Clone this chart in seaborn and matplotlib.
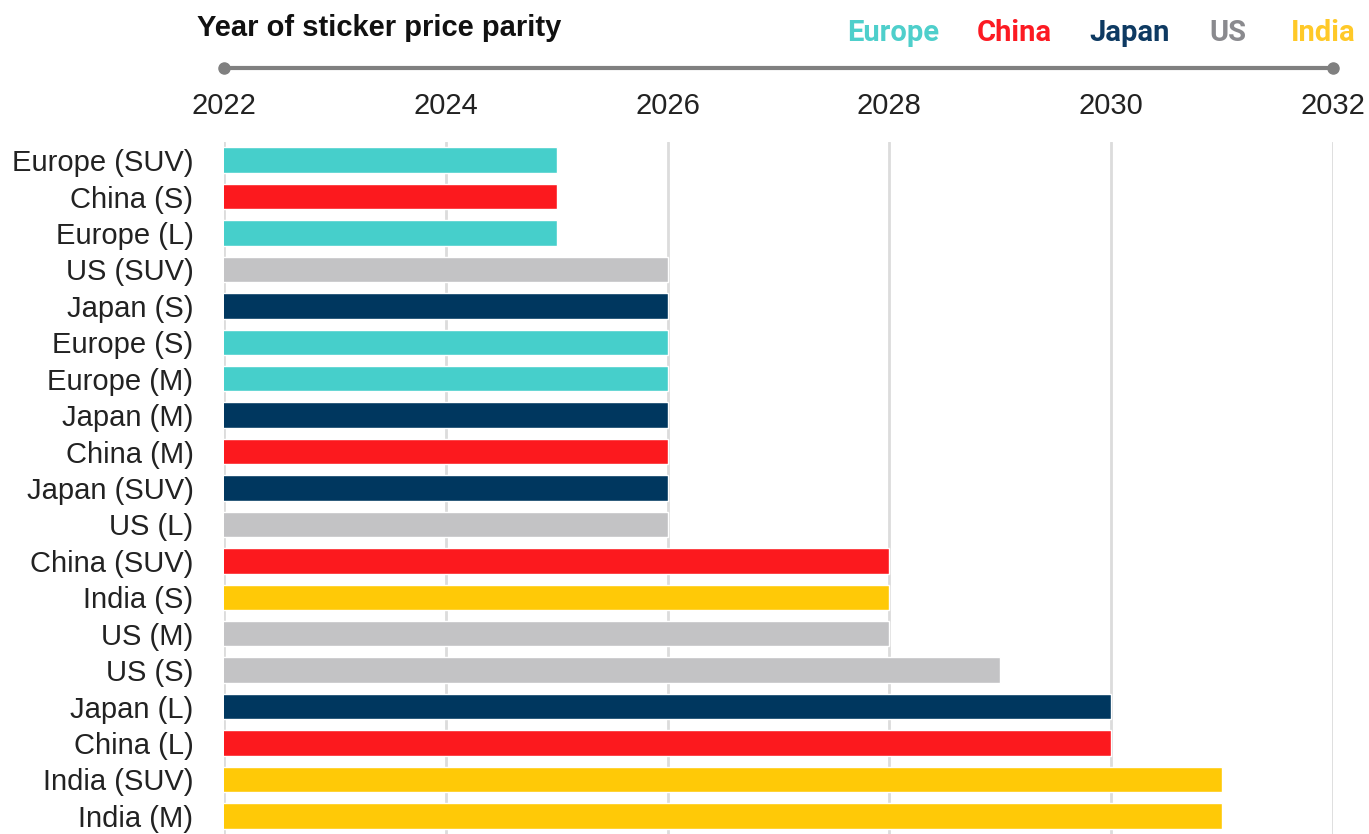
import matplotlib
matplotlib.use("Agg")
import matplotlib.pyplot as plt
import matplotlib.transforms as mtransforms
import seaborn as sns
import pandas as pd

# Data
labels = ["Europe (SUV)", "China (S)", "Europe (L)", "US (SUV)", "Japan (S)",
          "Europe (S)", "Europe (M)", "Japan (M)", "China (M)", "Japan (SUV)",
          "US (L)", "China (SUV)", "India (S)", "US (M)", "US (S)",
          "Japan (L)", "China (L)", "India (SUV)", "India (M)"]
years = [2025, 2025, 2025, 2026, 2026, 2026, 2026, 2026, 2026, 2026,
         2026, 2028, 2028, 2028, 2029, 2030, 2030, 2031, 2031]
regions = [s.split(" (")[0] for s in labels]

region_order = ["Europe", "China", "Japan", "US", "India"]
bar_colors = {"Europe": "#46CFCB", "China": "#FC191E", "Japan": "#00375F",
              "US": "#C3C3C5", "India": "#FFC907"}
text_colors = {"Europe": "#4ECFCB", "China": "#FC1A22", "Japan": "#0E3A62",
               "US": "#8A8A8E", "India": "#FFC928"}
tick_years = list(range(2022, 2033, 2))

df = pd.DataFrame({"label": labels, "year": years, "region": regions})

sns.set_style("white")
plt.rcParams["font.family"] = ["Liberation Sans", "DejaVu Sans"]

fig = plt.figure(figsize=(13.69, 8.34), dpi=100)
ax = fig.add_axes([224 / 1369, 0, (1333 - 224) / 1369, 692 / 834])

sns.barplot(data=df, x="year", y="label", hue="region", palette=bar_colors,
            dodge=False, width=0.7, orient="h", legend=False, ax=ax,
            order=labels, saturation=1, zorder=3)

ax.set_xlim(2022, 2032)
ax.set_ylim(len(labels) - 0.5, -0.5)
ax.set_xticks(tick_years)
ax.set_xticklabels([str(y) for y in tick_years])
ax.xaxis.tick_top()
ax.tick_params(axis="x", length=0, pad=16, labelsize=21, colors="#222222")
ax.tick_params(axis="y", length=0, pad=22, labelsize=21, colors="#222222")
ax.set_xlabel("")
ax.set_ylabel("")
for sp in ax.spines.values():
    sp.set_visible(False)
ax.grid(axis="x", color="#DCDCDC", linewidth=2, zorder=0)
ax.set_axisbelow(True)

# timeline line with end dots above the tick labels
trans = mtransforms.blended_transform_factory(ax.transData, ax.transAxes)
ax.plot([2022, 2032], [1.107, 1.107], color="#808080", linewidth=3,
        marker="o", markersize=8, transform=trans, clip_on=False)

fig.text(197 / 1369, 1 - 28 / 834, "Year of sticker price parity",
         fontsize=21, fontweight="bold", color="#111111", va="center", ha="left")

legend_x = [893, 1014, 1130, 1228, 1323]
for name, lx in zip(region_order, legend_x):
    fig.text(lx / 1369, 1 - 33 / 834, name, fontsize=21, fontweight="bold",
             family=["Roboto", "DejaVu Sans"], color=text_colors[name],
             ha="center", va="center")

fig.savefig("out.png", dpi=100)
